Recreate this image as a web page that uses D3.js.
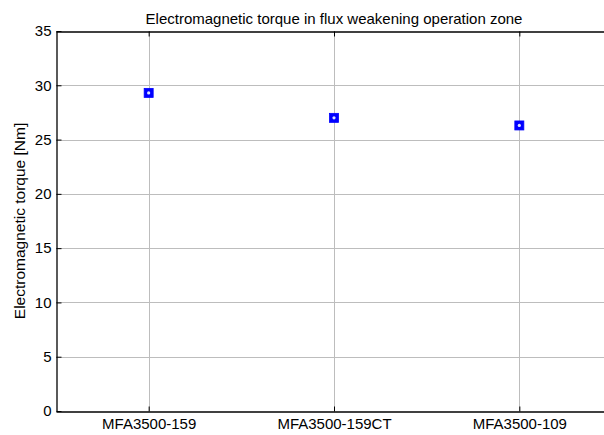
<!DOCTYPE html>
<html>
<head>
<meta charset="utf-8">
<script src="https://cdn.jsdelivr.net/npm/d3@7"></script>
<style>
  html, body { margin: 0; padding: 0; background: #fff; }
  svg { display: block; font-family: "Liberation Sans", Arial, sans-serif; }
</style>
</head>
<body>
<svg id="chart" width="604" height="435"></svg>
<script>
// Motor variants and their electromagnetic torque in the flux weakening zone
const categories = ["MFA3500-159", "MFA3500-159CT", "MFA3500-109"];
const torque = [29.3, 27.0, 26.3];
const yTicks = [0, 5, 10, 15, 20, 25, 30, 35];

const svg = d3.select("#chart");
const margin = { left: 56, top: 31, bottom: 411 };
const plotRight = 612; // axes box extends past the visible window

const x = d3.scaleLinear().domain([0.5, 3.5]).range([margin.left, plotRight]);
const y = d3.scaleLinear().domain([0, 35]).range([margin.bottom, margin.top]);

const g = svg.append("g");

// grid lines
g.selectAll("line.hgrid").data(yTicks.filter(d => d > 0 && d < 35)).join("line")
  .attr("x1", margin.left).attr("x2", plotRight)
  .attr("y1", d => Math.round(y(d)) + 0.5).attr("y2", d => Math.round(y(d)) + 0.5)
  .attr("stroke", "#bdbdbd").attr("stroke-width", 1);
g.selectAll("line.vgrid").data(categories).join("line")
  .attr("x1", (d, i) => Math.round(x(i + 1)) + 0.5).attr("x2", (d, i) => Math.round(x(i + 1)) + 0.5)
  .attr("y1", margin.top).attr("y2", margin.bottom)
  .attr("stroke", "#bdbdbd").attr("stroke-width", 1);

// axes with inward ticks
const yAxis = d3.axisLeft(y).tickValues(yTicks).tickSizeInner(-5).tickSizeOuter(0).tickPadding(5);
const gy = svg.append("g").attr("transform", `translate(${margin.left + 0.5},0)`).call(yAxis);
gy.selectAll("text").attr("font-size", 15).attr("fill", "#000");

const xAxis = d3.axisBottom(x).tickValues([1, 2, 3]).tickFormat((d) => categories[d - 1])
  .tickSizeInner(-5).tickSizeOuter(0).tickPadding(7);
const gx = svg.append("g").attr("transform", `translate(0,${margin.bottom + 0.5})`).call(xAxis);
gx.selectAll("text").attr("font-size", 15).attr("fill", "#000");

const xTop = d3.axisTop(x).tickValues([1, 2, 3]).tickFormat("").tickSizeInner(-5).tickSizeOuter(0);
svg.append("g").attr("transform", `translate(0,${margin.top + 0.5})`).call(xTop);

svg.selectAll(".domain").attr("stroke", "#000").attr("stroke-width", 1.3);
svg.selectAll(".tick line").attr("stroke", "#000");

// data markers: blue squares with a light centre
const pts = svg.append("g").selectAll("g.pt").data(torque).join("g")
  .attr("transform", (d, i) => `translate(${x(i + 1)},${y(d)})`);
pts.append("rect").attr("x", -4.5).attr("y", -4.5).attr("width", 9).attr("height", 9)
  .attr("fill", "#0000ff").attr("stroke", "#0000ff").attr("stroke-width", 0.8);
pts.append("circle").attr("r", 1.6).attr("fill", "#dde4ff");

// title and axis label
svg.append("text").attr("x", (margin.left + plotRight) / 2).attr("y", 24).attr("text-anchor", "middle")
  .attr("font-size", 15).text("Electromagnetic torque in flux weakening operation zone");
svg.append("text").attr("transform", `translate(25,${(margin.top + margin.bottom) / 2}) rotate(-90)`)
  .attr("text-anchor", "middle").attr("font-size", 15.5).text("Electromagnetic torque [Nm]");
</script>
</body>
</html>
